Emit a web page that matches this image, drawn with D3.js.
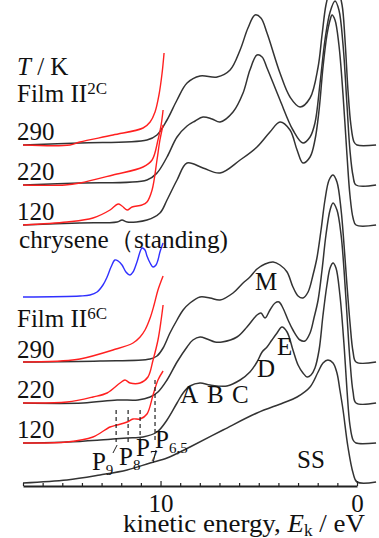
<!DOCTYPE html>
<html>
<head>
<meta charset="utf-8">
<script src="https://cdn.jsdelivr.net/npm/d3@7"></script>
<style>
  html, body { margin: 0; padding: 0; background: #fff; }
  svg { display: block; font-family: "Liberation Serif", "Times New Roman", serif; }
</style>
</head>
<body>
<div id="chart"></div>
<script>
// kinetic energy axis (eV), drawn reversed
const axisTicks = d3.range(0, 18);
const axisLabels = [10, 0];

const temps = ['290', '220', '120'];

// vertical offsets of each spectrum (same units as intensity)
const offsets2C = [34.1, 30.1, 26.1];
const offsets6C = [12.4, 8.3, 4.3];
const offsetChrysene = 18.9;
const offsetSS = 0.4;

// Film II(2C) spectra [E, intensity]
const film2C290 = [[17,0],[14.10,0.2],[10.69,0.5],[10.18,1.0],[9.67,2.5],[9.16,4.5],[8.65,6.2],[7.99,6.9],[7.12,6.8],[6.46,7.5],[5.95,9.5],[5.55,11.7],[5.19,13.0],[4.89,12.7],[4.58,11.2],[3.92,7.2],[3.41,4.8],[2.90,3.8],[2.39,4.7],[1.98,7.8],[1.78,11.0],[1.58,14.0],[1.37,15.5],[1.17,16.0],[0.97,15.5],[0.76,14.0],[0.61,10.5],[0.46,5.5],[0.31,2.0],[0.15,0.3],[0,0],[-0.97,0]];
const film2C220 = [[17,0],[14.10,0.2],[10.69,0.5],[10.18,1.2],[9.67,2.8],[9.16,4.8],[8.65,5.9],[8.24,6.4],[7.84,6.8],[7.38,6.6],[6.97,6.3],[6.31,7.3],[5.80,9.2],[5.45,11.5],[5.09,13.0],[4.83,12.8],[4.58,11.7],[3.92,8.5],[3.26,5.5],[2.75,4.2],[2.39,4.8],[2.14,6.2],[1.88,10.2],[1.63,14.5],[1.37,17.3],[1.12,18.4],[0.92,17.5],[0.71,14.0],[0.51,8.0],[0.36,3.5],[0.20,0.9],[0.05,0],[-0.97,0]];
const film2C120 = [[17,0],[14.10,0.2],[12.21,0.3],[11.96,0.5],[11.70,0.3],[10.69,0.5],[10.03,1.2],[9.67,2.5],[9.16,4.5],[8.65,6.2],[7.84,5.7],[6.97,5.2],[5.95,6.5],[5.09,7.8],[4.43,9.3],[3.92,10.3],[3.41,9.5],[3.05,7.5],[2.75,6.2],[2.39,6.8],[2.14,8.5],[1.93,11.5],[1.73,15.8],[1.53,19.0],[1.37,20.5],[1.27,21.0],[1.12,20.5],[0.92,18.0],[0.71,13.0],[0.51,7.0],[0.36,3.0],[0.20,0.7],[0.05,0],[-0.97,0]];

// magnified onset region (red)
const red2C290 = [[17,0],[14.61,0],[14.10,0.3],[12.42,1.0],[10.89,1.7],[10.53,2.3],[10.28,3.3],[10.08,5.0],[9.92,7.2],[9.82,9.2]];
const red2C220 = [[17,0],[14.86,0],[14.10,0.2],[12.42,1.0],[10.89,1.8],[10.43,2.5],[10.13,4.5],[9.97,6.0],[9.87,7.5]];
const red2C120 = [[17,0],[14.76,0.3],[13.44,0.7],[12.57,1.5],[12.16,2.1],[11.96,1.9],[11.70,1.5],[11.45,1.8],[10.94,2.0],[10.69,2.3],[10.43,3.5],[10.18,6.5],[10.03,8.5],[9.87,10.0]];

// chrysene (standing), blue
const chrysene = [[17,0],[14.10,0.1],[13.59,0.2],[13.23,0.5],[12.93,1.2],[12.72,2.0],[12.52,3.0],[12.32,3.7],[12.16,3.6],[11.96,3.2],[11.76,2.5],[11.55,2.2],[11.40,2.5],[11.20,3.5],[10.94,4.9],[10.79,4.7],[10.69,4.1],[10.53,3.4],[10.38,3.0],[10.23,3.2],[10.13,3.7],[10.03,4.5],[9.87,5.4]];

// Film II(6C) spectra
const film6C290 = [[17,0],[13.08,0.1],[10.53,0.3],[10.18,0.6],[9.87,1.4],[9.52,2.9],[9.16,4.2],[8.85,5.2],[8.50,5.9],[7.99,6.5],[7.48,6.4],[6.97,6.2],[6.31,6.9],[5.80,7.9],[5.45,8.5],[5.09,9.3],[4.68,9.8],[4.27,10.0],[3.92,9.7],[3.56,9.0],[3.26,7.5],[3.00,6.6],[2.75,6.4],[2.49,7.0],[2.24,8.7],[2.04,10.4],[1.83,13.2],[1.63,16.2],[1.42,18.2],[1.22,18.7],[1.02,18.0],[0.81,15.2],[0.66,11.7],[0.51,7.7],[0.36,4.0],[0.20,1.0],[0.05,0],[-0.97,0]];
const film6C220 = [[17,0],[13.94,0],[12.21,0.3],[11.15,0.3],[10.53,0.6],[10.13,1.1],[9.67,2.3],[9.16,4.1],[8.65,5.6],[8.35,6.3],[7.99,6.6],[7.63,6.4],[7.23,6.1],[6.87,6.1],[6.11,6.6],[5.60,7.6],[5.09,8.8],[4.89,9.0],[4.68,8.5],[4.43,9.3],[4.17,10.0],[3.97,10.1],[3.77,9.5],[3.51,8.3],[3.26,7.3],[2.90,6.3],[2.65,6.2],[2.39,7.0],[2.19,8.5],[1.98,10.3],[1.78,13.3],[1.58,16.8],[1.37,19.3],[1.22,20.0],[1.02,19.3],[0.81,16.8],[0.66,13.3],[0.51,8.8],[0.36,4.3],[0.20,1.1],[0.05,0],[-0.97,0]];
const film6C120 = [[17,0],[14.76,0.1],[13.08,0.3],[12.42,0.4],[11.70,0.5],[10.89,0.6],[10.18,1.1],[9.67,2.3],[9.16,4.0],[8.85,5.0],[8.50,5.7],[7.99,6.0],[7.48,5.8],[6.62,5.7],[5.95,6.3],[5.45,7.1],[5.09,8.1],[4.83,9.1],[4.58,9.6],[4.33,10.3],[4.07,11.0],[3.82,11.6],[3.56,11.1],[3.26,9.3],[3.00,7.8],[2.75,7.0],[2.54,6.6],[2.34,6.8],[2.14,7.5],[1.93,9.3],[1.73,12.8],[1.53,15.8],[1.37,17.5],[1.22,18.0],[1.07,17.5],[0.87,14.8],[0.66,9.8],[0.51,5.3],[0.36,1.8],[0.20,0.3],[0.05,0],[-0.97,0]];

const red6C290 = [[17,0],[15.11,0.1],[14.10,0.3],[12.42,1.2],[11.40,1.9],[11.04,2.5],[10.79,3.2],[10.53,4.4],[10.33,5.7],[10.13,7.2],[9.87,8.6]];
const red6C220 = [[17,0],[14.76,0.1],[13.44,0.6],[12.72,1.0],[12.06,2.0],[11.81,2.3],[11.55,2.0],[11.04,2.0],[10.64,2.6],[10.38,4.3],[10.13,6.3],[9.97,8.3],[9.87,9.8]];
const red6C120 = [[17,0],[14.76,0.1],[13.44,0.6],[12.57,1.6],[12.21,1.8],[11.70,2.1],[11.40,2.4],[11.04,2.4],[10.69,2.9],[10.38,4.8],[10.13,6.3],[9.87,7.2]];

// substrate (SS)
const substrate = [[17,-0.1],[14.76,0.2],[13.08,0.7],[11.70,1.2],[10.53,1.9],[9.67,2.4],[9.01,3.0],[8.50,3.5],[6.82,5.2],[5.09,6.9],[3.77,7.9],[3.05,8.5],[2.39,9.5],[1.98,11.0],[1.73,11.9],[1.48,12.2],[1.22,11.9],[1.02,10.9],[0.87,9.2],[0.71,7.2],[0.46,3.5],[0.20,0.9],[0,0],[-0.97,0]];

// P_n peak positions (eV)
const peakE = [12.26, 11.65, 11.04, 10.28];
const peakNames = ['9', '8', '7', '6,5'];

const width = 379, height = 538;
const svg = d3.select('#chart').append('svg')
  .attr('width', width)
  .attr('height', height);

const x = d3.scaleLinear().domain([17, 0]).range([23, 357]);
const y = d3.scaleLinear().domain([0, 48.6]).range([486, 0]);

function drawSpectrum(data, offset, color, w) {
  const line = d3.line()
    .x(d => x(d[0]))
    .y(d => y(d[1] + offset))
    .curve(d3.curveCatmullRom.alpha(0.5));
  svg.append('path')
    .datum(data)
    .attr('fill', 'none')
    .attr('stroke', color)
    .attr('stroke-width', w)
    .attr('stroke-linejoin', 'round')
    .attr('d', line);
}

const black = '#333';
const red = '#ff2020';
const blue = '#3030ff';

[film2C290, film2C220, film2C120].forEach((s, i) => drawSpectrum(s, offsets2C[i], black, 1.5));
[film6C290, film6C220, film6C120].forEach((s, i) => drawSpectrum(s, offsets6C[i], black, 1.5));
drawSpectrum(substrate, offsetSS, black, 1.5);
[red2C290, red2C220, red2C120].forEach((s, i) => drawSpectrum(s, offsets2C[i], red, 1.4));
[red6C290, red6C220, red6C120].forEach((s, i) => drawSpectrum(s, offsets6C[i], red, 1.4));
drawSpectrum(chrysene, offsetChrysene, blue, 1.4);

// dashed markers for P peaks
svg.selectAll('.pline')
  .data(peakE)
  .enter().append('line')
  .attr('class', 'pline')
  .attr('x1', d => x(d)).attr('x2', d => x(d))
  .attr('y1', (d, i) => y(i === 3 ? 10.6 : 7.6))
  .attr('y2', y(4.4))
  .attr('stroke', '#222')
  .attr('stroke-width', 1.2)
  .attr('stroke-dasharray', '4,3');

// small leader ticks
svg.append('line').attr('x1', x(12.21)).attr('y1', y(4.1)).attr('x2', x(12.42)).attr('y2', y(3.3))
  .attr('stroke', '#222').attr('stroke-width', 1);
svg.append('line').attr('x1', x(10.23)).attr('y1', y(3.6)).attr('x2', x(10.38)).attr('y2', y(2.3))
  .attr('stroke', '#222').attr('stroke-width', 1);

// x axis
const axis = d3.axisBottom(x)
  .tickValues(axisTicks)
  .tickSizeInner(-3)
  .tickSizeOuter(0)
  .tickPadding(8)
  .tickFormat(d => d);
const gx = svg.append('g')
  .attr('transform', `translate(0,${y(0)})`)
  .call(axis);
gx.select('.domain').attr('stroke', '#222').attr('stroke-width', 2);
gx.selectAll('.tick line').attr('stroke', '#222').attr('stroke-width', 1.2)
  .attr('y2', d => axisLabels.includes(d) ? -5 : -3);
gx.selectAll('.tick text').filter(d => !axisLabels.includes(d)).remove();
gx.selectAll('.tick text')
  .attr('font-family', '"Liberation Serif", serif')
  .attr('font-size', 25)
  .attr('fill', '#111');

const fs = 25;
function label(txt, px, py, opts = {}) {
  const t = svg.append('text')
    .attr('x', px).attr('y', py)
    .attr('font-size', opts.size || fs)
    .attr('fill', '#111')
    .text(txt);
  if (opts.len) t.attr('textLength', opts.len).attr('lengthAdjust', 'spacingAndGlyphs');
  return t;
}

// axis title
const title = svg.append('text')
  .attr('x', 123).attr('y', 532)
  .attr('font-size', fs).attr('fill', '#111')
  .attr('textLength', 242).attr('lengthAdjust', 'spacingAndGlyphs');
title.append('tspan').text('kinetic energy, ');
title.append('tspan').attr('font-style', 'italic').text('E');
title.append('tspan').attr('font-size', 16).attr('dy', 4).text('k');
title.append('tspan').attr('dy', -4).text(' / eV');

// T / K
const tk = svg.append('text').attr('x', 17).attr('y', 75).attr('font-size', fs).attr('fill', '#111');
tk.append('tspan').attr('font-style', 'italic').text('T');
tk.append('tspan').text(' / K');

function filmLabel(sup, py) {
  const t = svg.append('text').attr('x', 17).attr('y', py).attr('font-size', fs).attr('fill', '#111');
  t.append('tspan').text('Film II');
  t.append('tspan').attr('font-size', 17).attr('dy', -8).text(sup);
}
filmLabel('2C', 102);
filmLabel('6C', 327);

temps.forEach((t, i) => label(t, 17, 140 + i * 40));
temps.forEach((t, i) => label(t, 17, 358 + i * 40));

label('chrysene（standing)', 19, 248, { len: 209 });

// feature letters
label('M', x(5.19), y(19.6));
label('E', x(4.07), y(13.1));
label('D', x(5.09), y(10.9));
label('A', x(9.0), y(8.3));
label('B', x(7.63), y(8.3));
label('C', x(6.36), y(8.3));
label('SS', x(3.05), y(1.8));

// P labels
const pLabelE = [13.49, 12.11, 11.25, 10.28];
const pLabelY = [1.6, 2.1, 3.0, 3.8];
peakNames.forEach((n, i) => {
  const t = svg.append('text')
    .attr('x', x(pLabelE[i])).attr('y', y(pLabelY[i]))
    .attr('font-size', fs).attr('fill', '#111');
  t.append('tspan').text('P');
  t.append('tspan').attr('font-size', 15).attr('dy', 5).text(n);
});
</script>
</body>
</html>
